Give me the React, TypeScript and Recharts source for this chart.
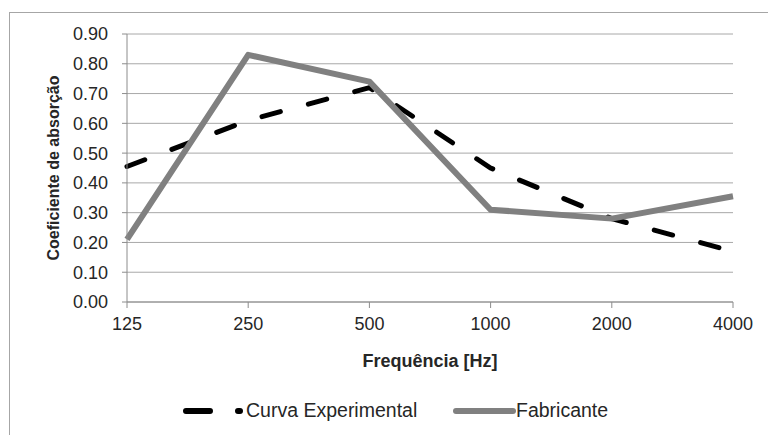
import React from 'react';
import { LineChart, Line, XAxis, YAxis, CartesianGrid } from 'recharts';

const frequencies = ['125', '250', '500', '1000', '2000', '4000'];
const experimental = [0.455, 0.61, 0.72, 0.45, 0.28, 0.17];
const fabricante = [0.21, 0.83, 0.74, 0.31, 0.28, 0.355];
const yTicks = [0, 0.1, 0.2, 0.3, 0.4, 0.5, 0.6, 0.7, 0.8, 0.9];

const FONT = '"Liberation Sans", Arial, sans-serif';
const TEXT = '#262626';

const App: React.FC = () => {
  const data = frequencies.map((f, i) => ({
    freq: f,
    experimental: experimental[i],
    fabricante: fabricante[i],
  }));

  return (
    <div style={{ position: 'absolute', left: 0, top: 0, width: 768, height: 435, background: '#fff', fontFamily: FONT, overflow: 'hidden' }}>
      {/* outer frame, only top and left edges visible in the crop */}
      <div style={{ position: 'absolute', left: 9, top: 12, width: 800, height: 500, borderTop: '1.5px solid #a6a6a6', borderLeft: '1.5px solid #a6a6a6' }} />
      <div style={{ position: 'absolute', left: 0, top: 0 }}>
        <LineChart width={768} height={435} data={data} margin={{ top: 34, right: 35, left: 0, bottom: 63 }}>
          <CartesianGrid vertical={false} stroke="#a8a8a8" strokeWidth={1} />
          <XAxis
            dataKey="freq"
            height={70}
            stroke="#8c8c8c"
            tickSize={6}
            tickMargin={9}
            tick={{ fill: TEXT, fontSize: 18, fontFamily: FONT }}
            label={{ value: 'Frequência [Hz]', position: 'insideBottom', offset: 5, style: { fill: TEXT, fontSize: 18, fontWeight: 'bold', fontFamily: FONT } }}
          />
          <YAxis
            width={127}
            domain={[0, 0.9]}
            ticks={yTicks}
            interval={0}
            stroke="#8c8c8c"
            tickSize={5}
            tickMargin={14}
            tickFormatter={(v: number) => v.toFixed(2)}
            tick={{ fill: TEXT, fontSize: 18, fontFamily: FONT }}
            label={{ value: 'Coeficiente de absorção', angle: -90, position: 'insideLeft', offset: 53, style: { textAnchor: 'middle', fill: TEXT, fontSize: 16, fontWeight: 'bold', fontFamily: FONT } }}
          />
          <Line
            type="linear"
            dataKey="experimental"
            stroke="#000"
            strokeWidth={5}
            strokeDasharray="19 29"
            strokeLinecap="round"
            dot={false}
            activeDot={false}
            isAnimationActive={false}
          />
          <Line
            type="linear"
            dataKey="fabricante"
            stroke="#808080"
            strokeWidth={6}
            strokeLinejoin="round"
            dot={false}
            activeDot={false}
            isAnimationActive={false}
          />
        </LineChart>
      </div>
      {/* legend */}
      <svg style={{ position: 'absolute', left: 0, top: 398 }} width={768} height={28}>
        <line x1={186} y1={13} x2={240} y2={13} stroke="#000" strokeWidth={6} strokeDasharray="24 28" strokeLinecap="round" />
        <text x={246} y={19} fontSize={19.5} fill={TEXT} fontFamily={FONT}>Curva Experimental</text>
        <line x1={456} y1={13} x2={513} y2={13} stroke="#808080" strokeWidth={6} strokeLinecap="round" />
        <text x={516} y={19} fontSize={19.5} fill={TEXT} fontFamily={FONT}>Fabricante</text>
      </svg>
    </div>
  );
};

export default App;
